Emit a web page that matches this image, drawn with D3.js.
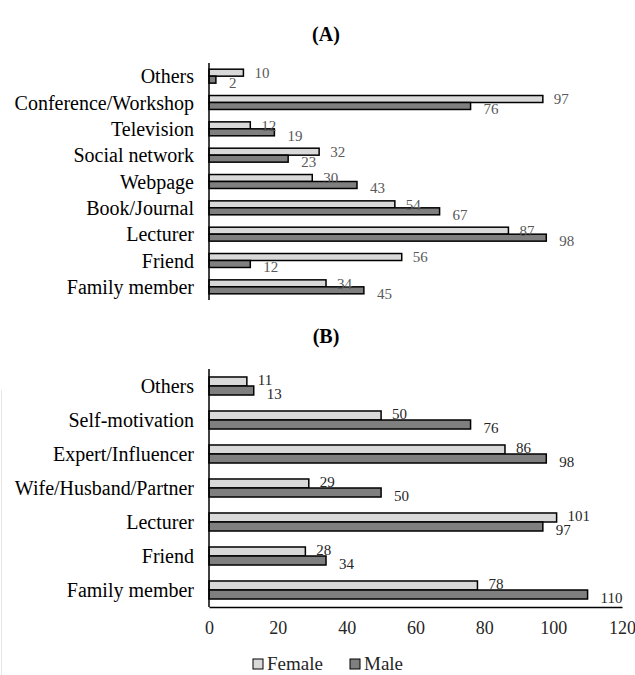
<!DOCTYPE html>
<html lang="en">
<head>
<meta charset="UTF-8">
<title>Sources by gender</title>
<style>
  body { margin: 0; background: #fff; }
  svg text { font-family: 'Liberation Serif', 'Times New Roman', 'DejaVu Serif', serif; }
  .bar { stroke: #000; stroke-width: 1.5; }
  .female { fill: #d9d9d9; }
  .male { fill: #7f7f7f; }
  .cat { font-size: 20px; fill: #000; }
  .val { font-size: 15px; }
  .title { font-size: 20px; font-weight: bold; }
</style>
</head>
<body>
<svg width="635" height="675"></svg>
<script src="https://d3js.org/d3.v7.min.js"></script>
<script>

const FONT = "'Liberation Serif', 'Times New Roman', 'DejaVu Serif', serif";

// panel A
const catsA = ['Others', 'Conference/Workshop', 'Television', 'Social network', 'Webpage',
               'Book/Journal', 'Lecturer', 'Friend', 'Family member'];
const femaleA = [10, 97, 12, 32, 30, 54, 87, 56, 34];
const maleA = [2, 76, 19, 23, 43, 67, 98, 12, 45];

// panel B
const catsB = ['Others', 'Self-motivation', 'Expert/Influencer', 'Wife/Husband/Partner',
               'Lecturer', 'Friend', 'Family member'];
const femaleB = [11, 50, 86, 29, 101, 28, 78];
const maleB = [13, 76, 98, 50, 97, 34, 110];

const xTicks = [0, 20, 40, 60, 80, 100, 120];
const seriesNames = ['Female', 'Male'];

const svg = d3.select('svg');

const x = d3.scaleLinear().domain([0, 120]).range([209, 622]);

// faint border line at the left of panel B
svg.append('line')
    .attr('x1', 1.5).attr('x2', 1.5).attr('y1', 390).attr('y2', 675)
    .attr('stroke', '#e6e6e6').attr('stroke-width', 1);

function panel(opts) {
    const g = svg.append('g');
    const y = d3.scaleBand()
        .domain(opts.cats)
        .range([opts.top, opts.bottom])
        .paddingInner(0.47)
        .paddingOuter(0.235);
    const bh = y.bandwidth() / 2;

    g.append('text')
        .attr('class', 'title')
        .attr('font-family', FONT)
        .attr('x', 326).attr('y', opts.titleY)
        .attr('text-anchor', 'middle')
        .text(opts.title);

    const rows = opts.cats.map((c, i) => ({ c, f: opts.female[i], m: opts.male[i] }));

    g.selectAll('.bar.female').data(rows).join('rect')
        .attr('class', 'bar female')
        .attr('x', x(0)).attr('y', d => y(d.c))
        .attr('width', d => x(d.f) - x(0)).attr('height', bh);

    g.selectAll('.bar.male').data(rows).join('rect')
        .attr('class', 'bar male')
        .attr('x', x(0)).attr('y', d => y(d.c) + bh)
        .attr('width', d => x(d.m) - x(0)).attr('height', bh);

    g.selectAll('.val.vf').data(rows).join('text')
        .attr('class', 'val vf')
        .attr('font-family', FONT)
        .attr('fill', opts.valColor)
        .attr('x', d => x(d.f) + 11)
        .attr('y', d => y(d.c) + bh / 2 + opts.fOff)
        .attr('dy', '0.35em')
        .text(d => d.f);

    g.selectAll('.val.vm').data(rows).join('text')
        .attr('class', 'val vm')
        .attr('font-family', FONT)
        .attr('fill', opts.valColor)
        .attr('x', d => x(d.m) + 13)
        .attr('y', d => y(d.c) + bh * 1.5 + opts.mOff)
        .attr('dy', '0.35em')
        .text(d => d.m);

    g.selectAll('.cat').data(opts.cats).join('text')
        .attr('class', 'cat')
        .attr('font-family', FONT)
        .attr('x', 194)
        .attr('y', d => y(d) + y.bandwidth() / 2)
        .attr('dy', '0.35em')
        .attr('text-anchor', 'end')
        .text(d => d);

    // vertical axis line
    g.append('line')
        .attr('x1', x(0)).attr('x2', x(0))
        .attr('y1', opts.top).attr('y2', opts.bottom)
        .attr('stroke', '#000').attr('stroke-width', 1.5);

    return y;
}

panel({ cats: catsA, female: femaleA, male: maleA, top: 63, bottom: 300,
        title: '(A)', titleY: 41, valColor: '#595959', fOff: 0, mOff: 3 });

panel({ cats: catsB, female: femaleB, male: maleB, top: 369, bottom: 607,
        title: '(B)', titleY: 343, valColor: '#262626', fOff: -2, mOff: 3 });

// x axis for panel B
const xAxis = svg.append('g')
    .attr('transform', 'translate(0,607)')
    .call(d3.axisBottom(x).tickValues(xTicks).tickSize(0).tickPadding(14));
xAxis.attr('font-family', FONT);
xAxis.select('.domain').attr('stroke', '#000').attr('stroke-width', 1.5);
xAxis.selectAll('text')
    .attr('font-family', FONT)
    .attr('font-size', 18).attr('fill', '#262626');

// legend
const legend = svg.append('g').attr('transform', 'translate(253,664)');
const items = legend.selectAll('g').data(seriesNames).join('g')
    .attr('transform', (d, i) => `translate(${i * 97},0)`);
items.append('rect')
    .attr('x', 0).attr('y', -5).attr('width', 10).attr('height', 10)
    .attr('class', (d, i) => i === 0 ? 'female' : 'male')
    .attr('stroke', '#000').attr('stroke-width', 1);
items.append('text')
    .attr('font-family', FONT)
    .attr('x', 14).attr('y', 6)
    .attr('font-size', 19).attr('fill', '#262626')
    .text(d => d);

</script>
</body>
</html>
